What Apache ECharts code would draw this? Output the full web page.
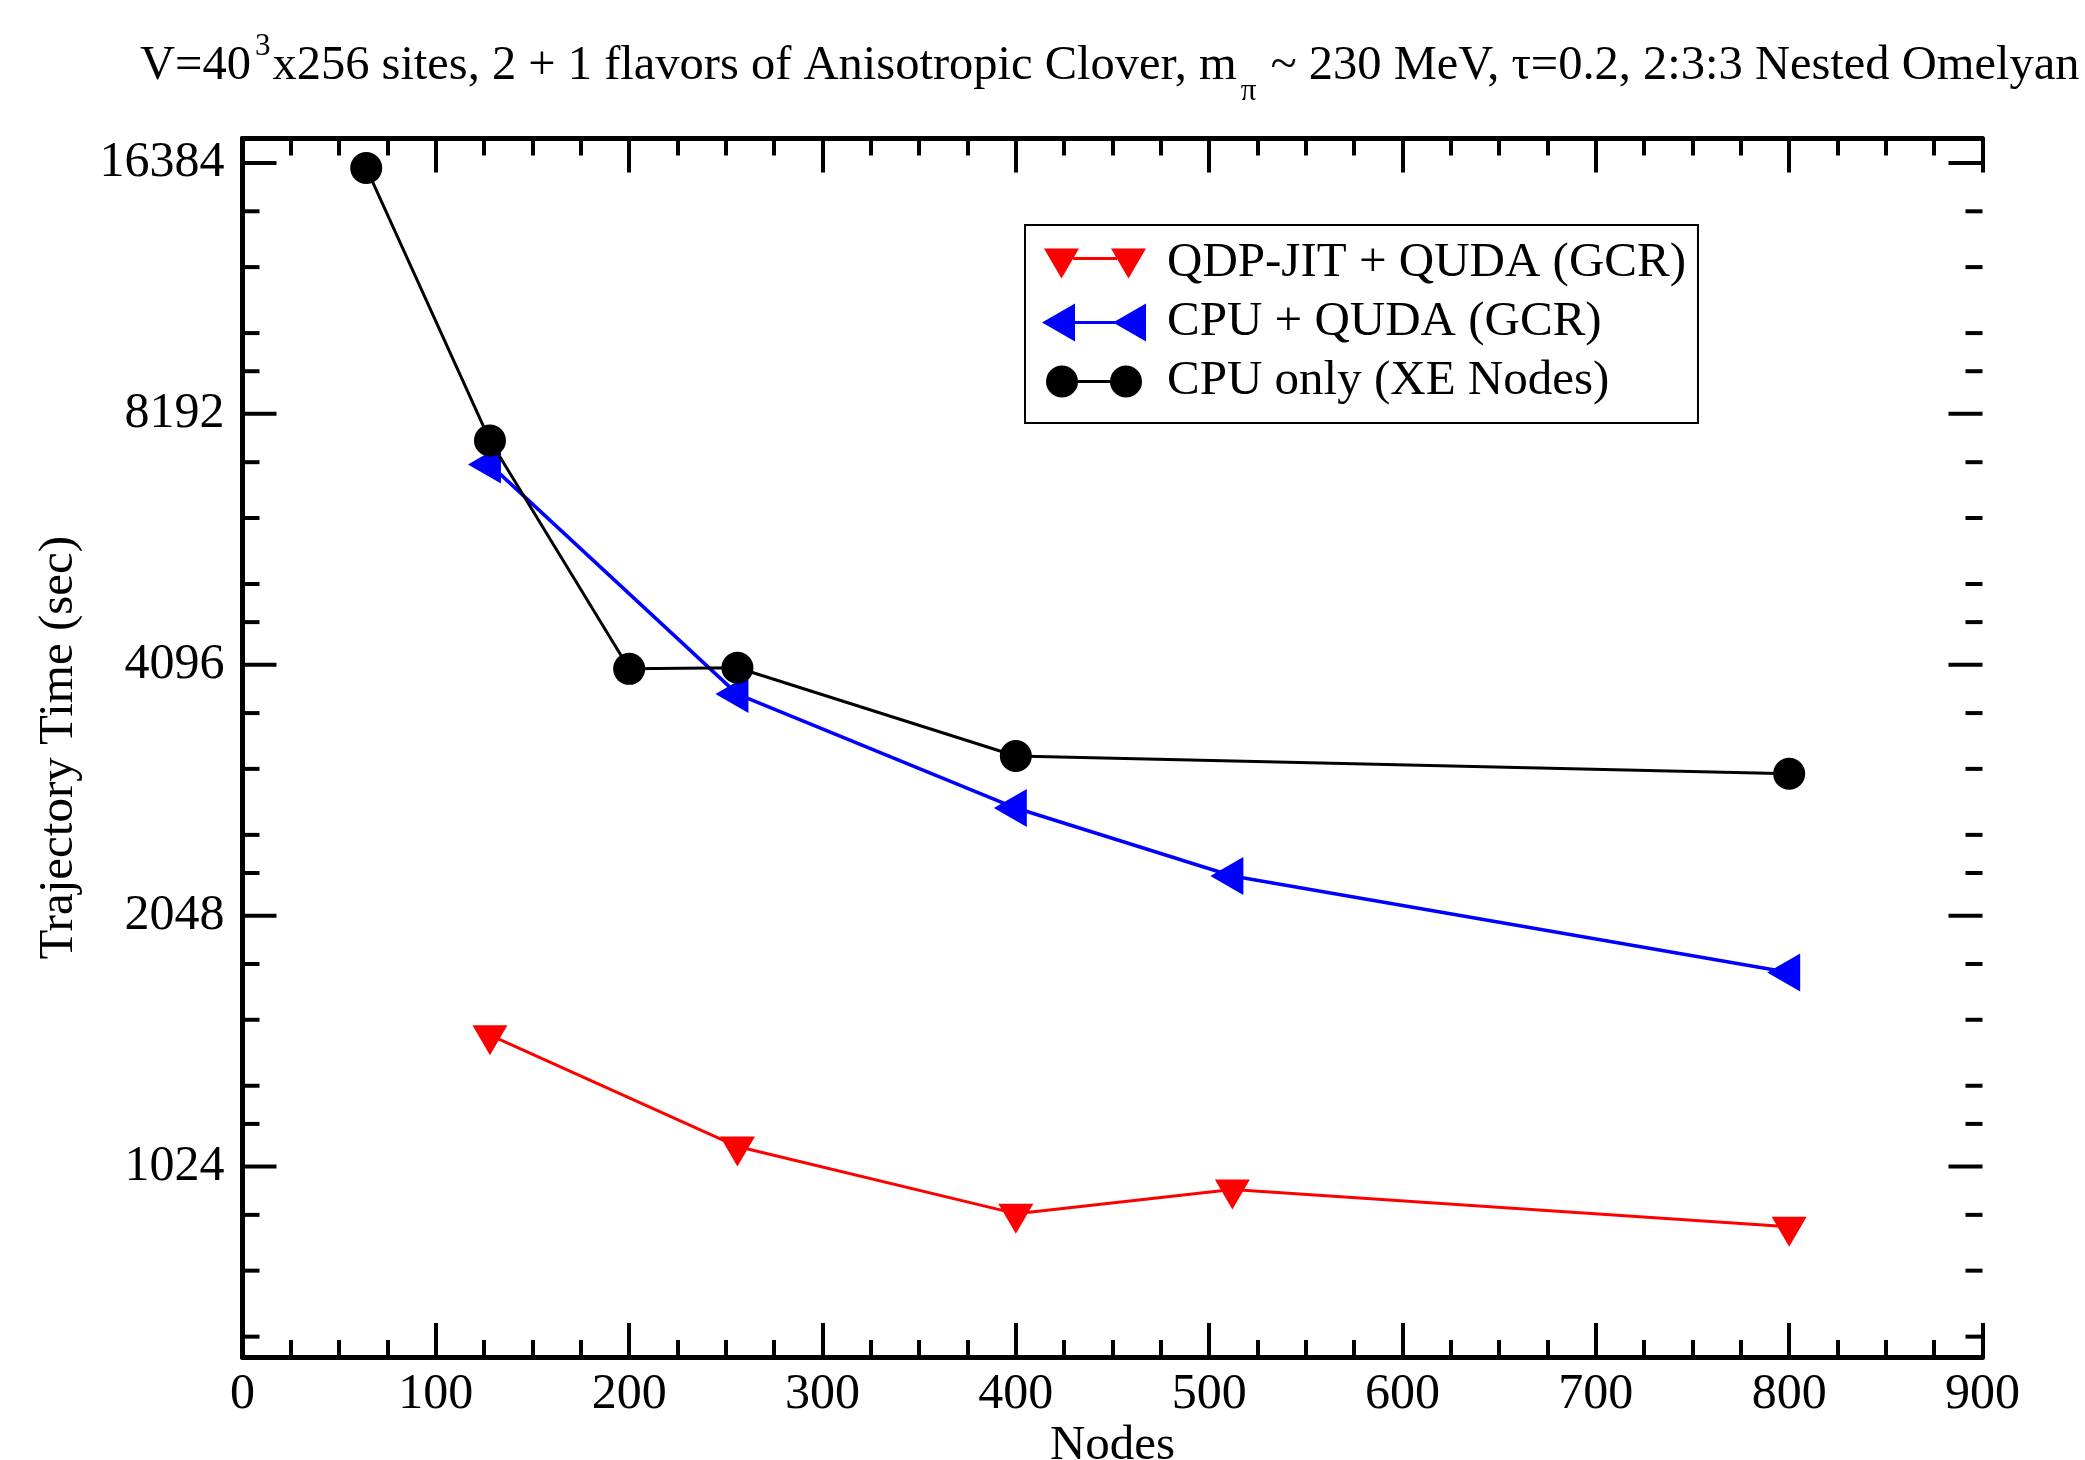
<!DOCTYPE html>
<html><head><meta charset="utf-8">
<script src="https://cdn.jsdelivr.net/npm/echarts@6/dist/echarts.min.js"></script>
<style>html,body{margin:0;padding:0;background:#fff}#chart{width:2085px;height:1460px}</style>
</head><body><div id="chart"></div>
<script>
// ---- data ----
const seriesNames = ['QDP-JIT + QUDA (GCR)', 'CPU + QUDA (GCR)', 'CPU only (XE Nodes)'];
const nodesJit = [128, 256, 400, 512, 800];
const timeJit = [1472, 1082, 899, 961, 867];
const nodesCpuQuda = [128, 256, 400, 512, 800];
const timeCpuQuda = [7120, 3777, 2757, 2285, 1750];
const nodesCpuOnly = [64, 128, 200, 256, 400, 800];
const timeCpuOnly = [16160, 7610, 4050, 4062, 3183, 3031];
// tick values of the log y axis (as in the reference)
const yMajorTicks = [1024, 2048, 4096, 8192, 16384];
const yMinorTicks = [640, 768, 896, 1152, 1280, 1536, 1792, 2304, 2560, 3072, 3584,
                     4608, 5120, 6144, 7168, 9216, 10240, 12288, 14336];
const X_MIN = 0, X_MAX = 900, X_STEP = 100;
const Y_MIN = 605, Y_MAX = 17530;

const FONT = 'Liberation Serif';
const pairs = (xs, ys) => xs.map((x, i) => [x, ys[i]]);

const chart = echarts.init(document.getElementById('chart'), null, {renderer: 'canvas'});

const axisLine = () => ({show: true, lineStyle: {color: '#000', width: 5}});
const majorTick = () => ({show: true, inside: true, length: 34, lineStyle: {color: '#000', width: 4}});
const minorTick = () => ({show: true, splitNumber: 4, length: 17, lineStyle: {color: '#000', width: 4}});

const iconRed = 'path://M0,0 L0.01,0 L0,0.01 Z M104,38 L103.99,38 L104,37.99 Z ' +
  'M2,4 L37,4 L19.5,34 Z M69,4 L104,4 L86.5,34 Z M31,12.5 L75,12.5 L75,15.5 L31,15.5 Z';
const iconBlue = 'path://M0,0 L0.01,0 L0,0.01 Z M104,38 L103.99,38 L104,37.99 Z ' +
  'M0,19 L33,0 L33,38 Z M71,19 L104,0 L104,38 Z M33,17.5 L73,17.5 L73,20.5 L33,20.5 Z';
const iconBlack = 'path://M0,0 L0.01,0 L0,0.01 Z M104,38 L103.99,38 L104,37.99 Z ' +
  'M4,19 A16,16 0 1,1 36,19 A16,16 0 1,1 4,19 Z M68,19 A16,16 0 1,1 100,19 A16,16 0 1,1 68,19 Z ' +
  'M36,17.5 L68,17.5 L68,20.5 L36,20.5 Z';

// inward ticks on both vertical frame edges, placed through the y scale
function yTickSeries(values, len) {
  return {
    type: 'custom', silent: true, clip: false, z: 3,
    data: values.map(v => [X_MIN, v]),
    encode: {x: 0, y: 1},
    renderItem: (params, api) => {
      const v = api.value(1);
      const l = api.coord([X_MIN, v]);
      const r = api.coord([X_MAX, v]);
      const st = {stroke: '#000', lineWidth: 4};
      return {type: 'group', children: [
        {type: 'line', shape: {x1: l[0], y1: l[1], x2: l[0] + len, y2: l[1]}, style: st},
        {type: 'line', shape: {x1: r[0] - len, y1: r[1], x2: r[0], y2: r[1]}, style: st}
      ]};
    }
  };
}

const option = {
  backgroundColor: '#fff',
  animation: false,
  title: {
    text: '{m|V=40}{sup|3}{m|x256 sites, 2 + 1 flavors of Anisotropic Clover, m}{sub|π}{m| ~ 230 MeV, τ=0.2, 2:3:3 Nested Omelyan}',
    left: 135, top: 31,
    textStyle: {
      fontWeight: 'normal',
      rich: {
        m: {fontSize: 48.5, fontFamily: FONT, fontWeight: 'normal', color: '#000', lineHeight: 60, verticalAlign: 'middle'},
        sup: {fontSize: 31, fontFamily: FONT, fontWeight: 'normal', color: '#000', lineHeight: 31, padding: [0, 2, 38, 4], verticalAlign: 'middle'},
        sub: {fontSize: 31, fontFamily: FONT, fontWeight: 'normal', color: '#000', lineHeight: 31, padding: [52, 2, 0, 4], verticalAlign: 'middle'}
      }
    }
  },
  legend: {
    orient: 'vertical',
    left: 1025, top: 225,
    padding: [14, 12, 17, 17],
    itemWidth: 104, itemHeight: 38, itemGap: 10,
    borderColor: '#000', borderWidth: 2,
    selectedMode: false,
    itemStyle: {borderWidth: 0},
    textStyle: {fontSize: 49, fontFamily: FONT, color: '#000', padding: [0, 0, 0, 16]},
    data: [
      {name: seriesNames[0], icon: iconRed},
      {name: seriesNames[1], icon: iconBlue},
      {name: seriesNames[2], icon: iconBlack}
    ]
  },
  grid: {left: 242.5, right: 102.5, top: 138.5, bottom: 103, containLabel: false, outerBoundsMode: 'none'},
  xAxis: [{
    type: 'value', position: 'bottom', min: X_MIN, max: X_MAX, interval: X_STEP,
    name: 'Nodes', nameLocation: 'middle', nameGap: 65, nameMoveOverlap: false,
    nameTextStyle: {fontSize: 49, fontFamily: FONT, color: '#000'},
    axisLine: axisLine(), axisTick: majorTick(), minorTick: minorTick(),
    axisLabel: {fontSize: 50, fontFamily: FONT, color: '#000', margin: 13},
    splitLine: {show: false}, minorSplitLine: {show: false}
  }, {
    type: 'value', position: 'top', min: X_MIN, max: X_MAX, interval: X_STEP,
    axisLine: axisLine(), axisTick: majorTick(), minorTick: minorTick(),
    axisLabel: {show: false}, splitLine: {show: false}
  }],
  yAxis: [{
    type: 'log', logBase: 2, position: 'left', min: Y_MIN, max: Y_MAX,
    name: 'Trajectory Time (sec)', nameLocation: 'middle', nameGap: 159, nameMoveOverlap: false,
    nameTextStyle: {fontSize: 49, fontFamily: FONT, color: '#000'},
    axisLine: axisLine(), axisTick: {show: false},
    axisLabel: {fontSize: 50, fontFamily: FONT, color: '#000', margin: 18,
      showMinLabel: false, showMaxLabel: false,
      formatter: v => String(Math.round(v))},
    splitLine: {show: false}
  }, {
    type: 'log', logBase: 2, position: 'right', min: Y_MIN, max: Y_MAX,
    axisLine: axisLine(), axisTick: {show: false},
    axisLabel: {show: false}, splitLine: {show: false}
  }],
  series: [
    yTickSeries(yMajorTicks, 34),
    yTickSeries(yMinorTicks, 17),
    {
      type: 'line', name: seriesNames[0], z: 4,
      data: pairs(nodesJit, timeJit),
      symbol: 'triangle', symbolSize: [35, 30], symbolRotate: 180, symbolOffset: [0, 5],
      lineStyle: {color: '#ff0000', width: 3},
      itemStyle: {color: '#ff0000', borderWidth: 0}
    },
    {
      type: 'line', name: seriesNames[1], z: 5,
      data: pairs(nodesCpuQuda, timeCpuQuda),
      symbol: 'triangle', symbolSize: [38, 33], symbolRotate: 90, symbolOffset: [-5.5, 0],
      lineStyle: {color: '#0000ff', width: 3.5},
      itemStyle: {color: '#0000ff', borderWidth: 0}
    },
    {
      type: 'line', name: seriesNames[2], z: 6,
      data: pairs(nodesCpuOnly, timeCpuOnly),
      symbol: 'circle', symbolSize: 32,
      lineStyle: {color: '#000', width: 3},
      itemStyle: {color: '#000', borderWidth: 0}
    }
  ]
};
chart.setOption(option);
</script>
</body></html>
